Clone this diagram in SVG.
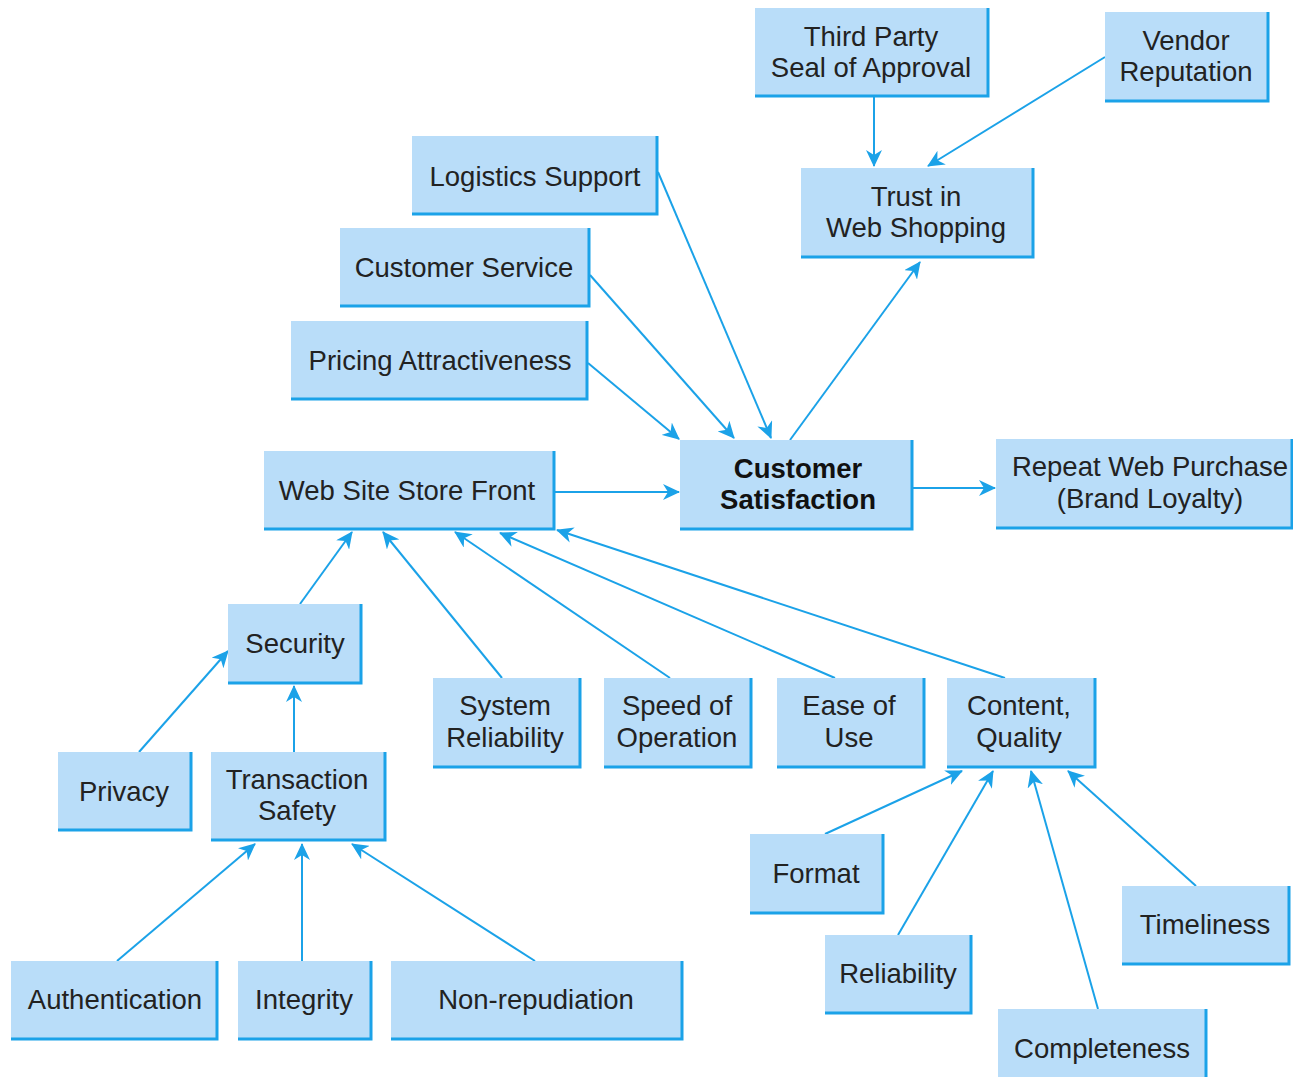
<svg xmlns="http://www.w3.org/2000/svg" width="1293" height="1077" viewBox="0 0 1293 1077">
  <style>
    .box { fill: #b9ddf9; }
    .edge { fill: none; stroke: #1ba2e8; stroke-width: 3; }
    .lbl { font-family: "Liberation Sans", Arial, sans-serif; font-size: 27.5px; fill: #222; text-anchor: middle; }
    .bold { font-weight: bold; fill: #111; }
    .conn { stroke: #1ba2e8; stroke-width: 2; fill: none; marker-end: url(#arrow); }
  </style>
  <defs>
    <marker id="arrow" markerUnits="userSpaceOnUse" markerWidth="18" markerHeight="16" refX="16" refY="8" orient="auto" viewBox="0 0 18 16">
      <path d="M0,0 L17,8 L0,16 L5,8 z" fill="#1ba2e8"/>
    </marker>
  </defs>
  <rect width="1293" height="1077" fill="#ffffff"/>

  <!-- connectors -->
  <g id="connectors">
    <line class="conn" x1="874" y1="97" x2="874" y2="166"/>
    <line class="conn" x1="1105" y1="57" x2="928" y2="166"/>
    <line class="conn" x1="790" y1="440" x2="920" y2="262"/>
    <line class="conn" x1="658" y1="172" x2="771" y2="438"/>
    <line class="conn" x1="590" y1="275" x2="734" y2="438"/>
    <line class="conn" x1="588" y1="363" x2="679" y2="439"/>
    <line class="conn" x1="555" y1="492" x2="679" y2="492"/>
    <line class="conn" x1="913" y1="488" x2="995" y2="488"/>
    <line class="conn" x1="300" y1="604" x2="352" y2="532"/>
    <line class="conn" x1="502" y1="678" x2="383" y2="532"/>
    <line class="conn" x1="670" y1="678" x2="455" y2="532"/>
    <line class="conn" x1="835" y1="678" x2="500" y2="533"/>
    <line class="conn" x1="1005" y1="678" x2="557" y2="530"/>
    <line class="conn" x1="139" y1="752" x2="228" y2="651"/>
    <line class="conn" x1="294" y1="752" x2="294" y2="686"/>
    <line class="conn" x1="117" y1="961" x2="255" y2="844"/>
    <line class="conn" x1="302" y1="961" x2="302" y2="844"/>
    <line class="conn" x1="535" y1="961" x2="352" y2="844"/>
    <line class="conn" x1="825" y1="834" x2="962" y2="771"/>
    <line class="conn" x1="898" y1="935" x2="993" y2="771"/>
    <line class="conn" x1="1098" y1="1009" x2="1031" y2="771"/>
    <line class="conn" x1="1196" y1="886" x2="1068" y2="771"/>
  </g>

  <!-- nodes -->
  <g id="third-party">
    <rect class="box" x="755" y="8" width="234" height="89"/>
    <polyline class="edge" points="988,8 988,96 755,96"/>
    <text class="lbl" x="871" y="46">Third Party</text>
    <text class="lbl" x="871" y="77">Seal of Approval</text>
  </g>
  <g id="vendor-reputation">
    <rect class="box" x="1105" y="12" width="164" height="90"/>
    <polyline class="edge" points="1268,12 1268,101 1105,101"/>
    <text class="lbl" x="1186" y="50">Vendor</text>
    <text class="lbl" x="1186" y="81">Reputation</text>
  </g>
  <g id="trust">
    <rect class="box" x="801" y="168" width="233" height="90"/>
    <polyline class="edge" points="1033,168 1033,257 801,257"/>
    <text class="lbl" x="916" y="206">Trust in</text>
    <text class="lbl" x="916" y="237">Web Shopping</text>
  </g>
  <g id="logistics">
    <rect class="box" x="412" y="136" width="246" height="79"/>
    <polyline class="edge" points="657,136 657,214 412,214"/>
    <text class="lbl" x="535" y="186">Logistics Support</text>
  </g>
  <g id="customer-service">
    <rect class="box" x="340" y="228" width="250" height="79"/>
    <polyline class="edge" points="589,228 589,306 340,306"/>
    <text class="lbl" x="464" y="277">Customer Service</text>
  </g>
  <g id="pricing">
    <rect class="box" x="291" y="321" width="297" height="79"/>
    <polyline class="edge" points="587,321 587,399 291,399"/>
    <text class="lbl" x="440" y="370">Pricing Attractiveness</text>
  </g>
  <g id="customer-satisfaction">
    <rect class="box" x="680" y="440" width="233" height="90"/>
    <polyline class="edge" points="912,440 912,529 680,529"/>
    <text class="lbl bold" x="798" y="478">Customer</text>
    <text class="lbl bold" x="798" y="509">Satisfaction</text>
  </g>
  <g id="repeat-purchase">
    <rect class="box" x="996" y="439" width="297" height="90"/>
    <polyline class="edge" points="1292,439 1292,528 996,528"/>
    <text class="lbl" x="1150" y="476">Repeat Web Purchase</text>
    <text class="lbl" x="1150" y="508">(Brand Loyalty)</text>
  </g>
  <g id="store-front">
    <rect class="box" x="264" y="451" width="291" height="79"/>
    <polyline class="edge" points="554,451 554,529 264,529"/>
    <text class="lbl" x="407" y="500">Web Site Store Front</text>
  </g>
  <g id="security">
    <rect class="box" x="228" y="604" width="134" height="80"/>
    <polyline class="edge" points="361,604 361,683 228,683"/>
    <text class="lbl" x="295" y="653">Security</text>
  </g>
  <g id="system-reliability">
    <rect class="box" x="433" y="678" width="148" height="90"/>
    <polyline class="edge" points="580,678 580,767 433,767"/>
    <text class="lbl" x="505" y="715">System</text>
    <text class="lbl" x="505" y="747">Reliability</text>
  </g>
  <g id="speed">
    <rect class="box" x="604" y="678" width="148" height="90"/>
    <polyline class="edge" points="751,678 751,767 604,767"/>
    <text class="lbl" x="677" y="715">Speed of</text>
    <text class="lbl" x="677" y="747">Operation</text>
  </g>
  <g id="ease-of-use">
    <rect class="box" x="777" y="678" width="148" height="90"/>
    <polyline class="edge" points="924,678 924,767 777,767"/>
    <text class="lbl" x="849" y="715">Ease of</text>
    <text class="lbl" x="849" y="747">Use</text>
  </g>
  <g id="content-quality">
    <rect class="box" x="947" y="678" width="149" height="90"/>
    <polyline class="edge" points="1095,678 1095,767 947,767"/>
    <text class="lbl" x="1019" y="715">Content,</text>
    <text class="lbl" x="1019" y="747">Quality</text>
  </g>
  <g id="privacy">
    <rect class="box" x="58" y="752" width="134" height="79"/>
    <polyline class="edge" points="191,752 191,830 58,830"/>
    <text class="lbl" x="124" y="801">Privacy</text>
  </g>
  <g id="transaction-safety">
    <rect class="box" x="211" y="752" width="175" height="89"/>
    <polyline class="edge" points="385,752 385,840 211,840"/>
    <text class="lbl" x="297" y="789">Transaction</text>
    <text class="lbl" x="297" y="820">Safety</text>
  </g>
  <g id="format">
    <rect class="box" x="750" y="834" width="134" height="80"/>
    <polyline class="edge" points="883,834 883,913 750,913"/>
    <text class="lbl" x="816" y="883">Format</text>
  </g>
  <g id="timeliness">
    <rect class="box" x="1122" y="886" width="168" height="79"/>
    <polyline class="edge" points="1289,886 1289,964 1122,964"/>
    <text class="lbl" x="1205" y="934">Timeliness</text>
  </g>
  <g id="reliability">
    <rect class="box" x="825" y="935" width="147" height="79"/>
    <polyline class="edge" points="971,935 971,1013 825,1013"/>
    <text class="lbl" x="898" y="983">Reliability</text>
  </g>
  <g id="completeness">
    <rect class="box" x="998" y="1009" width="209" height="68"/>
    <polyline class="edge" points="1206,1009 1206,1077"/>
    <text class="lbl" x="1102" y="1058">Completeness</text>
  </g>
  <g id="authentication">
    <rect class="box" x="11" y="961" width="207" height="79"/>
    <polyline class="edge" points="217,961 217,1039 11,1039"/>
    <text class="lbl" x="115" y="1009">Authentication</text>
  </g>
  <g id="integrity">
    <rect class="box" x="238" y="961" width="134" height="79"/>
    <polyline class="edge" points="371,961 371,1039 238,1039"/>
    <text class="lbl" x="304" y="1009">Integrity</text>
  </g>
  <g id="non-repudiation">
    <rect class="box" x="391" y="961" width="292" height="79"/>
    <polyline class="edge" points="682,961 682,1039 391,1039"/>
    <text class="lbl" x="536" y="1009">Non-repudiation</text>
  </g>
</svg>
